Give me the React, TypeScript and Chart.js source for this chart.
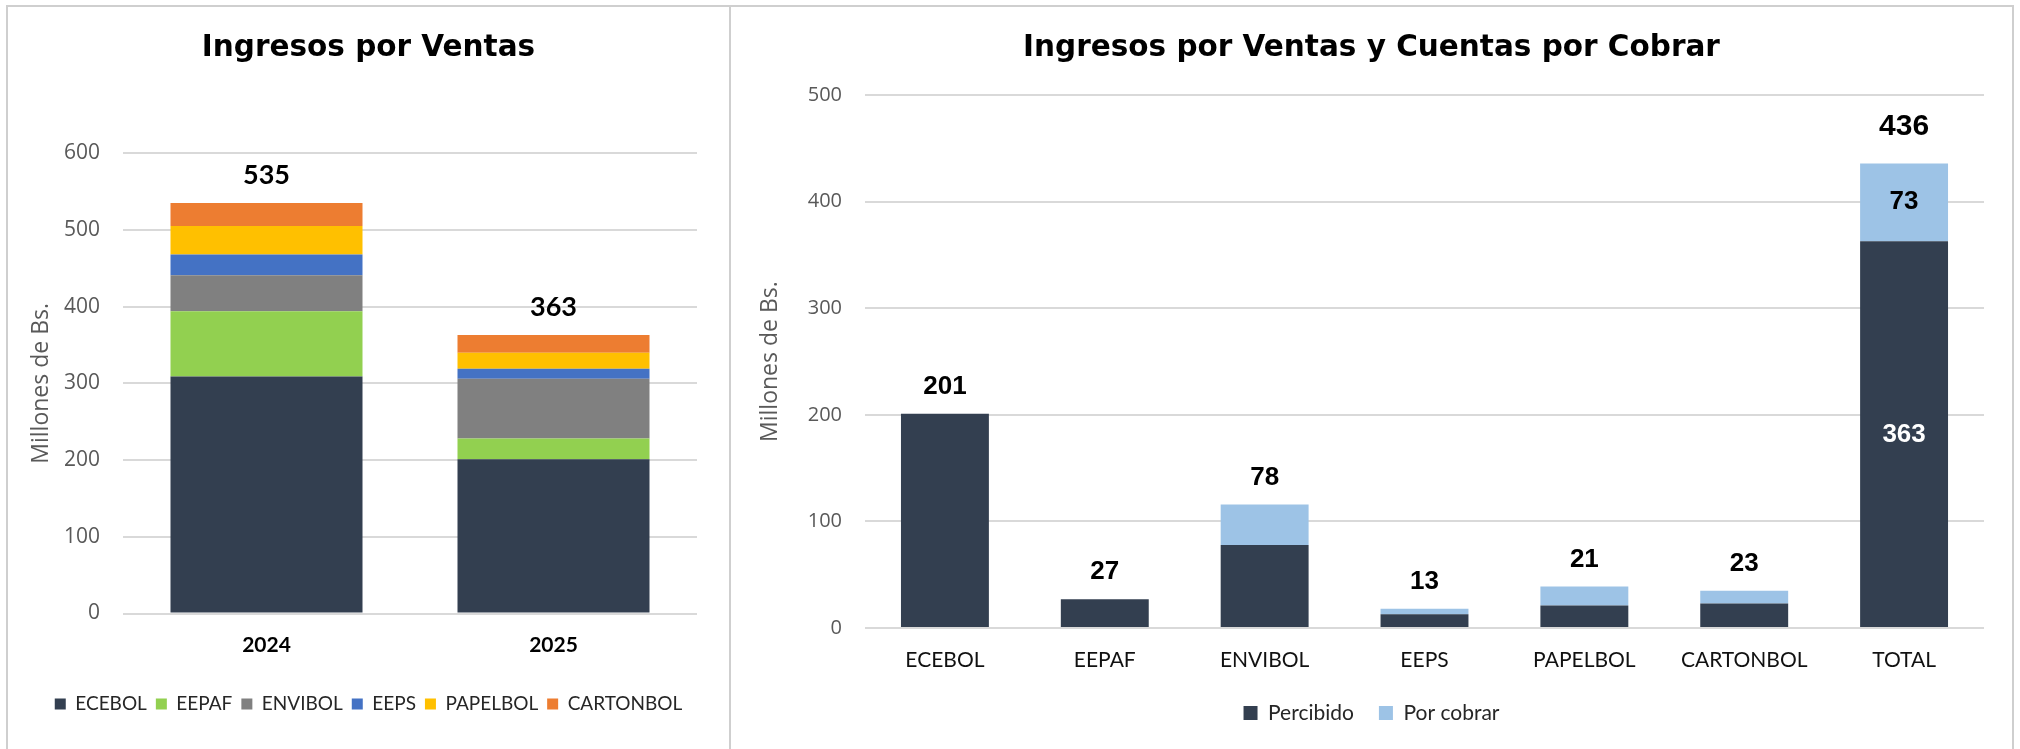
import React, { useEffect, useRef } from 'react';
import { Chart, registerables } from 'chart.js';

Chart.register(...registerables);

// ---------- Left chart data ----------
const years = ['2024', '2025'];
const leftSeriesNames = ['ECEBOL', 'EEPAF', 'ENVIBOL', 'EEPS', 'PAPELBOL', 'CARTONBOL'];
const ecebolValues = [309, 201];
const eepafValues = [85, 27];
const envibolValues = [47, 78];
const eepsValues = [27, 13];
const papelbolValues = [37, 21];
const cartonbolValues = [30, 23];
const leftColors = ['#333F50', '#92D050', '#808080', '#4472C4', '#FFC000', '#ED7D31'];
const leftYMax = 600;
const leftYStep = 100;

// ---------- Right chart data ----------
const companies = ['ECEBOL', 'EEPAF', 'ENVIBOL', 'EEPS', 'PAPELBOL', 'CARTONBOL', 'TOTAL'];
const percibidoValues = [201, 27, 78, 13, 21, 23, 363];
const porCobrarValues = [0, 0, 38, 5, 18, 12, 73];
const rightSeriesNames = ['Percibido', 'Por cobrar'];
const rightColors = ['#333F50', '#9DC3E6'];
const rightYMax = 500;
const rightYStep = 100;

const OPEN = "'Open Sans', sans-serif";
const LATO = "Lato, sans-serif";
const DEJAVU = "'DejaVu Sans', sans-serif";
const ARIAL = "'Liberation Sans', Arial, sans-serif";

const leftLabelPlugin = {
  id: 'leftTotals',
  afterDatasetsDraw(chart: any) {
    const ctx = chart.ctx;
    const y = chart.scales.y;
    const meta0 = chart.getDatasetMeta(0);
    ctx.save();
    ctx.font = `bold 27px ${LATO}`;
    ctx.fillStyle = '#000000';
    ctx.textAlign = 'center';
    ctx.textBaseline = 'middle';
    chart.data.labels.forEach((_: any, i: number) => {
      let total = 0;
      chart.data.datasets.forEach((ds: any) => (total += ds.data[i]));
      const x = meta0.data[i].x;
      ctx.fillText(String(total), x, y.getPixelForValue(total) - 27.5);
    });
    ctx.restore();
  },
};

const rightLabelPlugin = {
  id: 'rightLabels',
  afterDatasetsDraw(chart: any) {
    const ctx = chart.ctx;
    const y = chart.scales.y;
    const meta0 = chart.getDatasetMeta(0);
    const totalIndex = companies.indexOf('TOTAL');
    ctx.save();
    ctx.textAlign = 'center';
    ctx.textBaseline = 'middle';
    companies.forEach((_, i) => {
      const x = meta0.data[i].x;
      const p = percibidoValues[i];
      const c = porCobrarValues[i];
      const total = p + c;
      if (i === totalIndex) {
        ctx.font = `bold 30px ${ARIAL}`;
        ctx.fillStyle = '#000000';
        ctx.fillText(String(total), x, y.getPixelForValue(total) - 37);
        ctx.font = `bold 26px ${ARIAL}`;
        ctx.fillText(String(c), x, y.getPixelForValue(p + c / 2));
        ctx.fillStyle = '#FFFFFF';
        ctx.fillText(String(p), x, y.getPixelForValue(p / 2));
      } else {
        ctx.font = `bold 26px ${ARIAL}`;
        ctx.fillStyle = '#000000';
        ctx.fillText(String(p), x, y.getPixelForValue(total) - 27);
      }
    });
    ctx.restore();
  },
};

function LeftChart() {
  const ref = useRef<HTMLCanvasElement | null>(null);
  useEffect(() => {
    if (!ref.current) return;
    const seriesValues = [ecebolValues, eepafValues, envibolValues, eepsValues, papelbolValues, cartonbolValues];
    const chart = new Chart(ref.current, {
      type: 'bar',
      data: {
        labels: years,
        datasets: leftSeriesNames.map((name, k) => ({
          label: name,
          data: seriesValues[k],
          backgroundColor: leftColors[k],
          borderWidth: 0,
          barPercentage: 0.669,
          categoryPercentage: 1,
        })),
      },
      options: {
        responsive: false,
        animation: false,
        layout: { padding: { left: 32, right: 32, top: 0, bottom: 25.5 } },
        plugins: {
          title: {
            display: true,
            text: 'Ingresos por Ventas',
            color: '#000000',
            font: { family: DEJAVU, size: 29.5, weight: 'bold' },
            padding: { top: 24, bottom: 86.8 },
          },
          legend: {
            display: true,
            position: 'bottom',
            labels: {
              boxWidth: 11,
              boxHeight: 11,
              padding: 9,
              color: '#262626',
              font: { family: LATO, size: 19 },
            },
          },
          tooltip: { enabled: false },
        },
        scales: {
          x: {
            stacked: true,
            grid: { display: false, drawTicks: false },
            border: { display: false },
            ticks: { color: '#000000', font: { family: LATO, size: 21, weight: 'bold' }, padding: 18.9 },
            afterFit: (s: any) => { s.height = 72; },
          },
          y: {
            stacked: true,
            min: 0,
            max: leftYMax,
            ticks: { stepSize: leftYStep, color: '#595959', font: { family: OPEN, size: 21 }, padding: 23 },
            grid: { color: '#D9D9D9', lineWidth: 2, drawTicks: false },
            border: { display: false },
            title: {
              display: true,
              text: 'Millones de Bs.',
              color: '#595959',
              font: { family: OPEN, size: 23 },
              padding: { top: -12.8, bottom: 0 },
            },
            afterFit: (s: any) => { s.width = 83; },
          },
        },
      },
      plugins: [leftLabelPlugin],
    } as any);
    return () => chart.destroy();
  }, []);
  return <canvas ref={ref} width={721} height={742} style={{ display: 'block' }} />;
}

function RightChart() {
  const ref = useRef<HTMLCanvasElement | null>(null);
  useEffect(() => {
    if (!ref.current) return;
    const seriesValues = [percibidoValues, porCobrarValues];
    const chart = new Chart(ref.current, {
      type: 'bar',
      data: {
        labels: companies,
        datasets: rightSeriesNames.map((name, k) => ({
          label: name,
          data: seriesValues[k],
          backgroundColor: rightColors[k],
          borderWidth: 0,
          barPercentage: 0.55,
          categoryPercentage: 1,
        })),
      },
      options: {
        responsive: false,
        animation: false,
        layout: { padding: { left: 28, right: 28, top: 0, bottom: 15.5 } },
        plugins: {
          title: {
            display: true,
            text: 'Ingresos por Ventas y Cuentas por Cobrar',
            color: '#000000',
            font: { family: DEJAVU, size: 29.5, weight: 'bold' },
            padding: { top: 24, bottom: 28.8 },
          },
          legend: {
            display: true,
            position: 'bottom',
            labels: {
              boxWidth: 14,
              boxHeight: 14,
              padding: 25,
              color: '#262626',
              font: { family: LATO, size: 21 },
            },
          },
          tooltip: { enabled: false },
        },
        scales: {
          x: {
            stacked: true,
            grid: { display: false, drawTicks: false },
            border: { display: false },
            ticks: { color: '#111111', font: { family: LATO, size: 21 }, padding: 19.4 },
            afterFit: (s: any) => { s.height = 49.5; },
          },
          y: {
            stacked: true,
            min: 0,
            max: rightYMax,
            ticks: { stepSize: rightYStep, color: '#595959', font: { family: OPEN, size: 20 }, padding: 23 },
            grid: { color: '#D9D9D9', lineWidth: 2, drawTicks: false },
            border: { display: false },
            title: {
              display: true,
              text: 'Millones de Bs.',
              color: '#595959',
              font: { family: OPEN, size: 23 },
              padding: { top: -2.8, bottom: 0 },
            },
            afterFit: (s: any) => { s.width = 106; },
          },
        },
      },
      plugins: [rightLabelPlugin],
    } as any);
    return () => chart.destroy();
  }, []);
  return <canvas ref={ref} width={1281} height={742} style={{ display: 'block' }} />;
}

export default function App() {
  return (
    <div
      style={{
        position: 'fixed',
        left: 0,
        top: 0,
        width: 2020,
        height: 749,
        overflow: 'hidden',
        background: '#FFFFFF',
      }}
    >
      <div
        style={{
          position: 'absolute',
          left: 6,
          top: 5,
          width: 721,
          height: 744,
          borderTop: '2px solid #CFCFCF',
          borderLeft: '2px solid #CFCFCF',
          borderRight: '2px solid #CFCFCF',
        }}
      >
        <LeftChart />
      </div>
      <div
        style={{
          position: 'absolute',
          left: 731,
          top: 5,
          width: 1281,
          height: 744,
          borderTop: '2px solid #CFCFCF',
          borderRight: '2px solid #CFCFCF',
        }}
      >
        <RightChart />
      </div>
    </div>
  );
}
